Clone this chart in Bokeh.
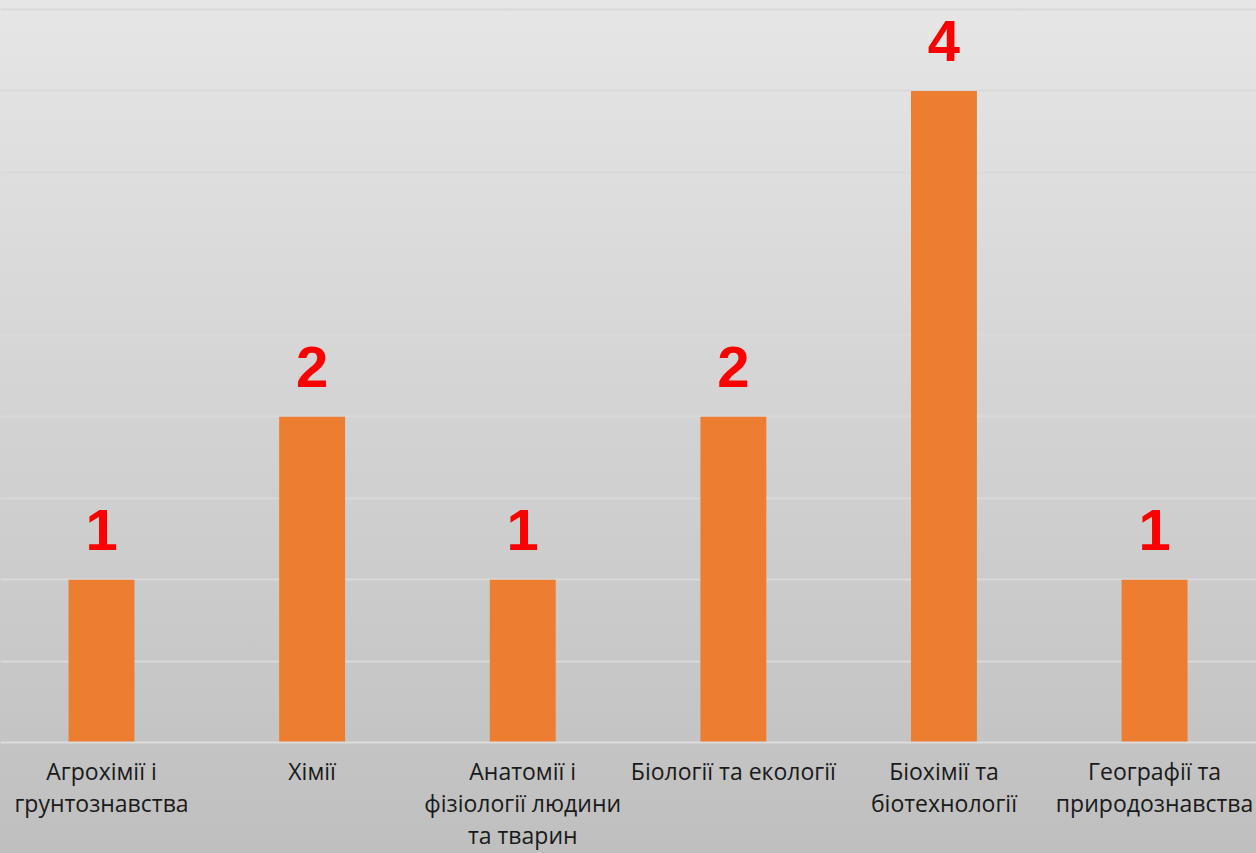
from bokeh.plotting import figure
from bokeh.models import ColumnDataSource, LabelSet, SingleIntervalTicker, Range1d, Span
from bokeh.core.properties import value
from bokeh.embed import file_html
from bokeh.resources import INLINE

categories = ["Агрохімії і\nгрунтознавства", "Хімії", "Анатомії і\nфізіології людини\nта тварин",
              "Біології та екології", "Біохімії та\nбіотехнології", "Географії та\nприродознавства"]
values = [1, 2, 1, 2, 4, 1]
labels = [str(v) for v in values]

idx = list(range(len(categories)))
src = ColumnDataSource(dict(x=idx, cat=categories, val=values, lab=labels, zero=[0] * len(idx)))

p = figure(x_range=Range1d(-0.4796, 5.484), y_range=Range1d(-0.681, 4.555),
           width=1256, height=853, output_backend="svg", toolbar_location=None,
           min_border_left=0, min_border_right=0, min_border_top=0, min_border_bottom=0)
p.styles = {"background": "linear-gradient(to bottom, #e6e6e6 0%, #bfbfbf 100%)"}
p.background_fill_alpha = 0
p.border_fill_alpha = 0
p.outline_line_color = None
p.xaxis.visible = False
p.yaxis.visible = False

p.ygrid.ticker = SingleIntervalTicker(interval=0.5)
p.ygrid.bounds = (0.25, 4.75)
p.ygrid.grid_line_color = "#d9d9d9"
p.ygrid.grid_line_width = 2
p.xgrid.grid_line_color = None

p.add_layout(Span(location=0, dimension="width", line_color="#dcdcdc", line_width=2))

p.vbar(x="x", top="val", width=0.313, source=src, color="#ed7d31", line_color=None)

p.add_layout(LabelSet(x="x", y="val", text="lab", source=src, text_align="center",
                      text_baseline="alphabetic", y_offset=30, text_color="#ff0000",
                      text_font=value("Liberation Sans"), text_font_style="bold",
                      text_font_size="58px"))

p.text(x="x", y="zero", text="cat", source=src, text_align="center",
       text_baseline="top", y_offset=12, text_color="#1a1a1a",
       text_font=value("Open Sans"), text_font_size="23px", text_line_height=1.0)

open("out.html", "w").write(file_html(p, INLINE))
